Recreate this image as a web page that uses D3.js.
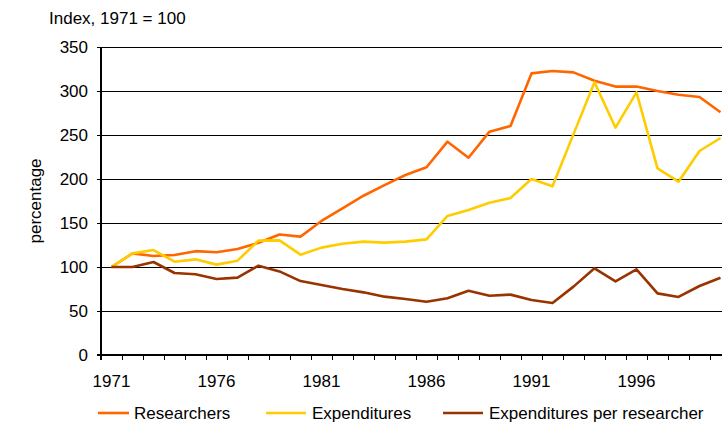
<!DOCTYPE html>
<html>
<head>
<meta charset="utf-8">
<script src="https://cdn.jsdelivr.net/npm/d3@7"></script>
<style>
  body { margin: 0; background: #fff; }
  text { font-family: "Liberation Sans", Arial, sans-serif; fill: #000; }
</style>
</head>
<body>
<script>
// data (index, 1971 = 100)
var years = d3.range(1971, 2001);
var researchers = [100, 115.5, 112.5, 113.6, 118, 116.7, 120.5, 127.5, 137, 134.5,
                   152.3, 166.7, 181, 193, 204.5, 213.3, 242.4, 224.2, 253.8, 260.2,
                   320, 322.7, 321.2, 311.7, 305, 305, 300, 295.8, 293.2, 275.8];
var expenditures = [100, 115.5, 119.3, 106, 108.7, 102.7, 107.2, 130, 130.3, 114,
                    122, 126.5, 128.8, 127.7, 128.8, 131.4, 158, 164.8, 173, 178.4,
                    200, 191.7, 251, 310, 258.3, 298.5, 212, 197, 231.8, 246.6];
var perResearcher = [100, 100, 105.7, 93.2, 91.7, 86.4, 87.9, 101.5, 95, 84,
                     79.5, 75, 71.2, 66.3, 63.6, 60.6, 64.4, 73, 67.4, 68.6,
                     62.5, 59, 77.7, 98.5, 83.7, 97.3, 70, 66, 78.4, 87.8];
var yTicks = [0, 50, 100, 150, 200, 250, 300, 350];
var xLabels = [1971, 1976, 1981, 1986, 1991, 1996];

var series = [
  {name: 'Researchers', values: researchers, color: '#ff6600'},
  {name: 'Expenditures', values: expenditures, color: '#ffcc00'},
  {name: 'Expenditures per researcher', values: perResearcher, color: '#993300'}
];

// dimensions
var width = 722, height = 426;
var plot = {left: 101, right: 731, top: 47, bottom: 355};

var svg = d3.select('body').append('svg')
    .attr('width', width)
    .attr('height', height);

// scales: one band per year, ticks between the bands
var x = d3.scaleLinear().domain([1970.5, 2000.5]).range([plot.left, plot.right]);
var y = d3.scaleLinear().domain([0, 350]).range([plot.bottom, plot.top]);

// gridlines
svg.append('g')
  .selectAll('line')
  .data(yTicks.slice(1))
  .enter().append('line')
    .attr('x1', plot.left - 4)
    .attr('x2', plot.right)
    .attr('y1', function(d) { return Math.round(y(d)) + 0.5; })
    .attr('y2', function(d) { return Math.round(y(d)) + 0.5; })
    .attr('stroke', '#000')
    .attr('stroke-width', 1);

// y labels
svg.append('g')
  .selectAll('text')
  .data(yTicks)
  .enter().append('text')
    .attr('x', 88)
    .attr('y', function(d) { return y(d); })
    .attr('dy', '0.35em')
    .attr('text-anchor', 'end')
    .style('font-size', '17px')
    .text(function(d) { return d; });

// x ticks between categories
svg.append('g')
  .selectAll('line')
  .data(d3.range(1970.5, 2001, 1))
  .enter().append('line')
    .attr('x1', function(d) { return Math.round(x(d)) + 0.5; })
    .attr('x2', function(d) { return Math.round(x(d)) + 0.5; })
    .attr('y1', plot.bottom)
    .attr('y2', plot.bottom + 5)
    .attr('stroke', '#000');

// x labels
svg.append('g')
  .selectAll('text')
  .data(xLabels)
  .enter().append('text')
    .attr('x', function(d) { return x(d); })
    .attr('y', 375)
    .attr('dy', '0.71em')
    .attr('text-anchor', 'middle')
    .style('font-size', '17px')
    .text(function(d) { return d; });

// axes lines
svg.append('line')
    .attr('x1', plot.left).attr('x2', plot.left)
    .attr('y1', plot.top).attr('y2', plot.bottom + 5)
    .attr('stroke', '#000').attr('stroke-width', 2);
svg.append('line')
    .attr('x1', plot.left - 4).attr('x2', plot.right)
    .attr('y1', plot.bottom).attr('y2', plot.bottom)
    .attr('stroke', '#000').attr('stroke-width', 2);

// lines
var line = d3.line()
    .x(function(d, i) { return x(years[i]); })
    .y(function(d) { return y(d); });

svg.append('g')
  .selectAll('path')
  .data(series)
  .enter().append('path')
    .attr('d', function(d) { return line(d.values); })
    .attr('fill', 'none')
    .attr('stroke', function(d) { return d.color; })
    .attr('stroke-width', 2.6)
    .attr('stroke-linejoin', 'round');

// subtitle and axis title
svg.append('text')
    .attr('x', 49)
    .attr('y', 23.5)
    .style('font-size', '17px')
    .text('Index, 1971 = 100');

svg.append('text')
    .attr('text-anchor', 'middle')
    .attr('transform', 'translate(41,' + y(175) + ')rotate(-90)')
    .style('font-size', '17px')
    .text('percentage');

// legend
var legendX = [98, 266, 443];
var legend = svg.append('g')
  .selectAll('g')
  .data(series)
  .enter().append('g')
    .attr('transform', function(d, i) { return 'translate(' + legendX[i] + ',413)'; });

legend.append('line')
    .attr('x1', 0).attr('x2', function(d, i) { return i === 0 ? 31 : 40; })
    .attr('stroke', function(d) { return d.color; })
    .attr('stroke-width', 2.6);

legend.append('text')
    .attr('x', function(d, i) { return i === 0 ? 36 : 46; })
    .attr('dy', '0.35em')
    .style('font-size', '17px')
    .text(function(d) { return d.name; });
</script>
</body>
</html>
